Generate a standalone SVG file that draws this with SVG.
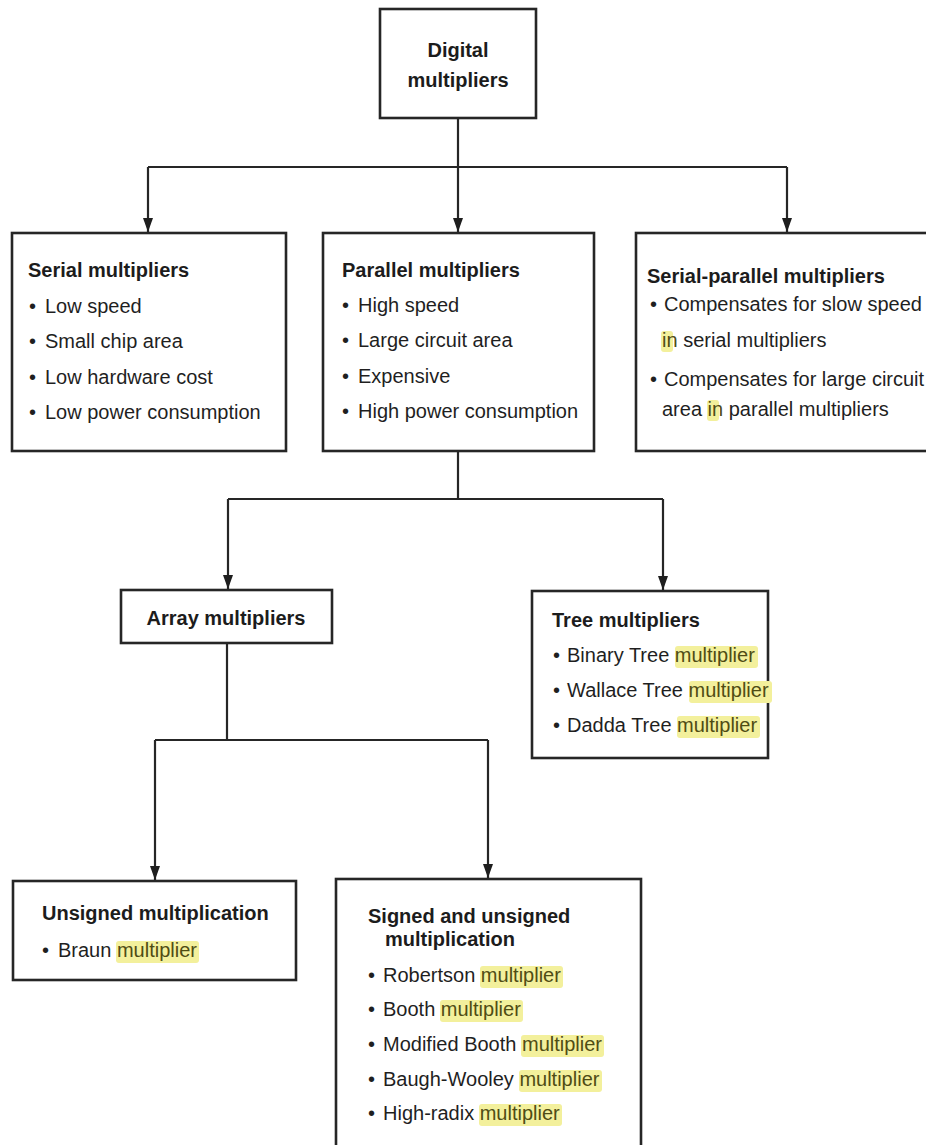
<svg xmlns="http://www.w3.org/2000/svg" width="926" height="1145" viewBox="0 0 926 1145">
<defs>
<marker id="arr" markerUnits="userSpaceOnUse" markerWidth="14" markerHeight="10" viewBox="0 0 14 10" refX="14" refY="5" orient="auto">
<path d="M0,0 L14,5 L0,10 Z" fill="#1e1e1e"/>
</marker>
<style>
.box{fill:#fff;stroke:#262626;stroke-width:2.6}
.ln{fill:none;stroke:#262626;stroke-width:2.2}
.h{font-family:"Liberation Sans",Arial,sans-serif;font-weight:bold;font-size:20px;fill:#1c1c1c}
.t{font-family:"Liberation Sans",Arial,sans-serif;font-size:20px;fill:#1f1f1f}
.hl{fill:#4f4c14}
.hb{fill:#f3f09c}
</style>
</defs>
<rect width="926" height="1145" fill="#fff"/>

<g id="connectors">
<path class="ln" d="M458 118 V167 M148 167 H787"/>
<path class="ln" d="M458 451 V499 M228 499 H663"/>
<path class="ln" d="M227 643 V740 M155 740 H488"/>
<path class="ln" d="M148 167 V232" marker-end="url(#arr)"/>
<path class="ln" d="M458 167 V232" marker-end="url(#arr)"/>
<path class="ln" d="M787 167 V232" marker-end="url(#arr)"/>
<path class="ln" d="M228 499 V589" marker-end="url(#arr)"/>
<path class="ln" d="M663 499 V590" marker-end="url(#arr)"/>
<path class="ln" d="M155 740 V880" marker-end="url(#arr)"/>
<path class="ln" d="M488 740 V878" marker-end="url(#arr)"/>
</g>

<g id="digital">
<rect class="box" x="380" y="9" width="156" height="109"/>
<text class="h" x="458" y="57" text-anchor="middle">Digital</text>
<text class="h" x="458" y="87" text-anchor="middle">multipliers</text>
</g>

<g id="serial">
<rect class="box" x="12" y="233" width="274" height="218"/>
<text class="h" x="28" y="277">Serial multipliers</text>
<text class="t"><tspan x="29" y="313">•</tspan><tspan x="45" y="313">Low speed</tspan></text>
<text class="t"><tspan x="29" y="348">•</tspan><tspan x="45" y="348">Small chip area</tspan></text>
<text class="t"><tspan x="29" y="384">•</tspan><tspan x="45" y="384">Low hardware cost</tspan></text>
<text class="t"><tspan x="29" y="419">•</tspan><tspan x="45" y="419">Low power consumption</tspan></text>
</g>

<g id="parallel">
<rect class="box" x="323" y="233" width="271" height="218"/>
<text class="h" x="342" y="277">Parallel multipliers</text>
<text class="t"><tspan x="342" y="312">•</tspan><tspan x="358" y="312">High speed</tspan></text>
<text class="t"><tspan x="342" y="347">•</tspan><tspan x="358" y="347">Large circuit area</tspan></text>
<text class="t"><tspan x="342" y="383">•</tspan><tspan x="358" y="383">Expensive</tspan></text>
<text class="t"><tspan x="342" y="418">•</tspan><tspan x="358" y="418">High power consumption</tspan></text>
</g>

<g id="serial-parallel">
<rect class="box" x="636" y="233" width="300" height="218"/>
<text class="h" x="647" y="283">Serial-parallel multipliers</text>
<text class="t"><tspan x="650" y="311">•</tspan><tspan x="664" y="311">Compensates for slow speed</tspan></text>
<rect class="hb" x="661" y="331" width="12" height="21" rx="3"/>
<text class="t" x="662" y="347"><tspan class="hl">in</tspan> serial multipliers</text>
<text class="t"><tspan x="650" y="386">•</tspan><tspan x="664" y="386">Compensates for large circuit</tspan></text>
<rect class="hb" x="707" y="400" width="12" height="21" rx="3"/>
<text class="t" x="662" y="416">area <tspan class="hl">in</tspan> parallel multipliers</text>
</g>

<g id="array">
<rect class="box" x="121" y="590" width="211" height="53"/>
<text class="h" x="226" y="625" text-anchor="middle">Array multipliers</text>
</g>

<g id="tree">
<rect class="box" x="532" y="591" width="236" height="167"/>
<text class="h" x="552" y="627">Tree multipliers</text>
<rect class="hb" x="675" y="646" width="83" height="22" rx="3"/>
<text class="t"><tspan x="553" y="662">•</tspan><tspan x="567" y="662">Binary Tree <tspan class="hl">multiplier</tspan></tspan></text>
<rect class="hb" x="689" y="681" width="83" height="22" rx="3"/>
<text class="t"><tspan x="553" y="697">•</tspan><tspan x="567" y="697">Wallace Tree <tspan class="hl">multiplier</tspan></tspan></text>
<rect class="hb" x="677" y="716" width="83" height="22" rx="3"/>
<text class="t"><tspan x="553" y="732">•</tspan><tspan x="567" y="732">Dadda Tree <tspan class="hl">multiplier</tspan></tspan></text>
</g>

<g id="unsigned">
<rect class="box" x="13" y="881" width="283" height="99"/>
<text class="h" x="42" y="920">Unsigned multiplication</text>
<rect class="hb" x="116" y="941" width="83" height="22" rx="3"/>
<text class="t"><tspan x="42" y="957">•</tspan><tspan x="58" y="957">Braun <tspan class="hl">multiplier</tspan></tspan></text>
</g>

<g id="signed">
<rect class="box" x="336" y="879" width="305" height="280"/>
<text class="h" x="368" y="923">Signed and unsigned</text>
<text class="h" x="385" y="946">multiplication</text>
<rect class="hb" x="480" y="966" width="83" height="22" rx="3"/>
<text class="t"><tspan x="368" y="982">•</tspan><tspan x="383" y="982">Robertson <tspan class="hl">multiplier</tspan></tspan></text>
<rect class="hb" x="440" y="1000" width="83" height="22" rx="3"/>
<text class="t"><tspan x="368" y="1016">•</tspan><tspan x="383" y="1016">Booth <tspan class="hl">multiplier</tspan></tspan></text>
<rect class="hb" x="521" y="1035" width="83" height="22" rx="3"/>
<text class="t"><tspan x="368" y="1051">•</tspan><tspan x="383" y="1051">Modified Booth <tspan class="hl">multiplier</tspan></tspan></text>
<rect class="hb" x="519" y="1070" width="83" height="22" rx="3"/>
<text class="t"><tspan x="368" y="1086">•</tspan><tspan x="383" y="1086">Baugh-Wooley <tspan class="hl">multiplier</tspan></tspan></text>
<rect class="hb" x="479" y="1104" width="83" height="22" rx="3"/>
<text class="t"><tspan x="368" y="1120">•</tspan><tspan x="383" y="1120">High-radix <tspan class="hl">multiplier</tspan></tspan></text>
</g>
</svg>
